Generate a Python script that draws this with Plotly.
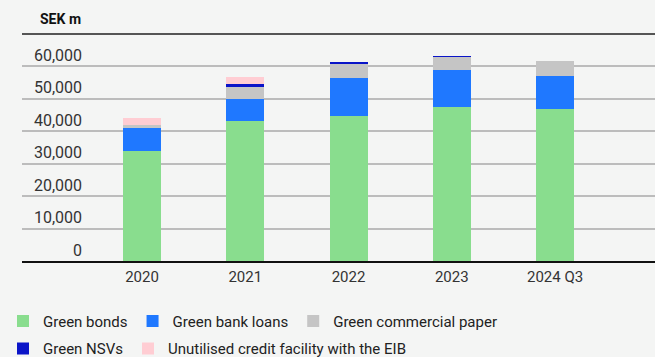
import plotly.graph_objects as go

categories = ["2020", "2021", "2022", "2023", "2024 Q3"]
green_bonds = [33900, 43100, 44600, 47400, 46800]
green_bank_loans = [7000, 6800, 11700, 11400, 10100]
green_cp = [900, 4000, 4600, 4300, 4900]
green_nsvs = [0, 600, 300, 60, 0]
eib_unutilised = [2200, 2200, 0, 0, 0]

series = [
    ("Green bonds", green_bonds, "#89dd8e", "legend"),
    ("Green bank loans", green_bank_loans, "#1f78ff", "legend"),
    ("Green commercial paper", green_cp, "#c5c5c5", "legend"),
    ("Green NSVs", green_nsvs, "#0a14c8", "legend2"),
    ("Unutilised credit facility with the EIB", eib_unutilised, "#ffcdd3", "legend2"),
]

y_ticks = [0, 10000, 20000, 30000, 40000, 50000, 60000]
y_tick_text = ["0", "10,000", "20,000", "30,000", "40,000", "50,000", "60,000"]

bg = "#f4f5f4"
font_family = "Roboto, sans-serif"

fig = go.Figure()
for name, vals, color, leg in series:
    fig.add_trace(go.Bar(
        x=categories, y=vals, name=name, legend=leg,
        marker=dict(color=color, line=dict(width=0)),
        hoverinfo="x+y+name",
    ))

legend_common = dict(
    orientation="h", xanchor="left", yanchor="middle",
    font=dict(size=15, color="#222222", family=font_family),
    bgcolor="rgba(0,0,0,0)", traceorder="normal",
    itemclick=False, itemdoubleclick=False,
)

fig.update_layout(
    width=655, height=357,
    barmode="stack",
    bargap=0.632,
    paper_bgcolor=bg, plot_bgcolor=bg,
    margin=dict(l=22, r=0, t=34, b=96, autoexpand=False),
    font=dict(family=font_family, color="#333333", size=15),
    showlegend=True,
    legend=dict(legend_common, x=-0.030, y=-(320.7 - 260.5) / 226.5),
    legend2=dict(legend_common, x=-0.030, y=-(348 - 260.5) / 226.5),
    xaxis=dict(
        type="category", range=[-1.162, 4.968],
        showgrid=False, showline=True, linecolor="#111111", linewidth=2,
        ticks="", tickfont=dict(size=15, color="#333333"),
        ticklabelstandoff=1,
        zeroline=False, fixedrange=True,
    ),
    yaxis=dict(
        range=[0, 70000], anchor="free", position=0.098,
        tickvals=y_ticks, ticktext=y_tick_text,
        showgrid=True, gridcolor="#bcbcbc", gridwidth=1.5,
        showline=False, ticks="", zeroline=False,
        ticklabelshift=-11, ticklabelstandoff=2,
        tickfont=dict(size=16, color="#333333"),
        fixedrange=True,
    ),
    shapes=[dict(type="line", xref="paper", yref="paper", x0=0, x1=1, y0=1, y1=1,
                 line=dict(color="#555555", width=2))],
    annotations=[dict(text="<b>SEK m</b>", xref="paper", yref="paper",
                      x=(38 - 22) / 633, y=1 + 15 / 226.5, xanchor="left", yanchor="middle",
                      showarrow=False, font=dict(size=14, color="#111111"))],
)

fig.write_html("out.html")
